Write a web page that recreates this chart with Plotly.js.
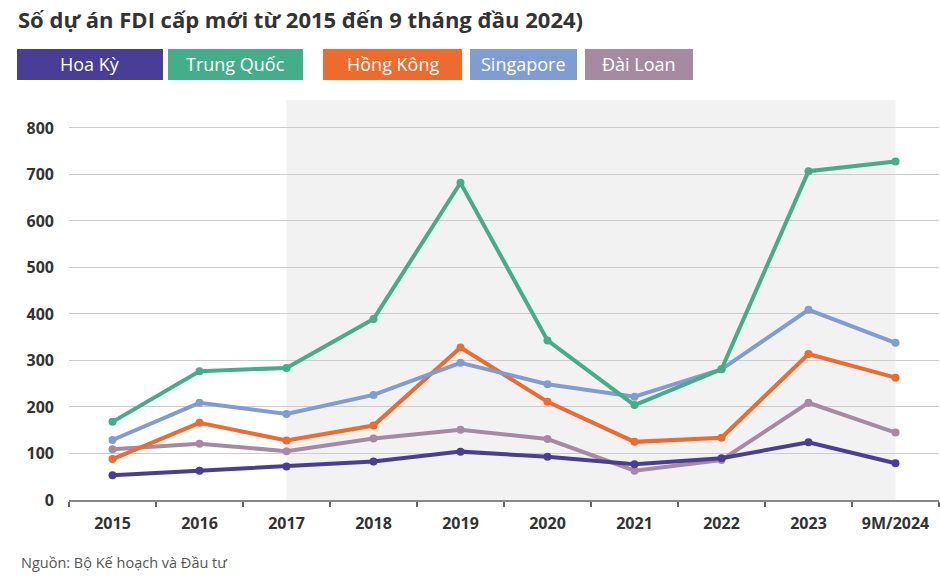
<!DOCTYPE html>
<html>
<head>
<meta charset="utf-8">
<script src="https://cdn.plot.ly/plotly-3.0.1.min.js"></script>
<style>html,body{margin:0;padding:0;background:#fff;}#chart{width:940px;height:578px;}</style>
</head>
<body>
<div id="chart"></div>
<script>
const categories = ["2015","2016","2017","2018","2019","2020","2021","2022","2023","9M/2024"];
const seriesNames = ["Hoa Kỳ","Trung Quốc","Hồng Kông","Singapore","Đài Loan"];
const hoaKy     = [53, 63, 72, 83, 104, 93, 77, 90, 124, 79];
const trungQuoc = [168, 277, 284, 389, 682, 343, 204, 281, 707, 728];
const hongKong  = [88, 166, 128, 160, 328, 211, 125, 134, 314, 263];
const singapore = [129, 209, 185, 226, 295, 249, 222, 281, 409, 338];
const daiLoan   = [109, 121, 105, 132, 151, 131, 63, 86, 209, 145];
const yTicks = [0, 100, 200, 300, 400, 500, 600, 700, 800];

const colors = ["#4a3d96", "#44ae8b", "#ef6a2d", "#7f9dd2", "#a68aa2"];
const seriesData = [hoaKy, trungQuoc, hongKong, singapore, daiLoan];

// draw order: back to front
const order = [4, 0, 2, 3, 1];
const traces = order.map(i => ({
  type: "scatter",
  mode: "lines+markers",
  name: seriesNames[i],
  x: categories,
  y: seriesData[i],
  line: {color: colors[i], width: 4},
  marker: {color: colors[i], size: 8},
  cliponaxis: false,
  showlegend: false
}));

const legendBoxes = [
  {x0: 17, x1: 163}, {x0: 168, x1: 303}, {x0: 323, x1: 462}, {x0: 470, x1: 577}, {x0: 585, x1: 693}
];
const W = 940, H = 578;
const shapes = [{
  type: "rect", xref: "x", yref: "paper", x0: 2, x1: 9, y0: 0, y1: 1,
  fillcolor: "#f2f2f2", line: {width: 0}, layer: "below"
}];
const annotations = [];
legendBoxes.forEach((b, i) => {
  shapes.push({
    type: "rect", xref: "paper", yref: "paper",
    x0: (b.x0 - 69) / 870, x1: (b.x1 - 69) / 870,
    y0: (500 - 80) / 400, y1: (500 - 49) / 400,
    fillcolor: colors[i], line: {width: 0}
  });
  annotations.push({
    xref: "paper", yref: "paper",
    x: ((b.x0 + b.x1) / 2 - 69) / 870, y: (500 - 64.5) / 400,
    xanchor: "center", yanchor: "middle",
    text: seriesNames[i], showarrow: false,
    font: {family: "Open Sans", size: 18, color: "#ffffff"}
  });
});
annotations.push({
  xref: "paper", yref: "paper", x: (19 - 69) / 870, y: (500 - 562) / 400,
  xanchor: "left", yanchor: "middle", showarrow: false,
  text: "Nguồn: Bộ Kế hoạch và Đầu tư",
  font: {family: "Open Sans", size: 14.5, color: "#555555"}
});

const layout = {
  width: W, height: H,
  margin: {l: 69, r: 1, t: 100, b: 78, pad: 0},
  paper_bgcolor: "#ffffff", plot_bgcolor: "rgba(0,0,0,0)",
  title: {
    text: "<b>Số dự án FDI cấp mới từ 2015 đến 9 tháng đầu 2024)</b>",
    font: {family: "Open Sans", size: 22, color: "#333333"},
    x: 18 / W, xanchor: "left", xref: "container", y: 1 - 20 / H, yanchor: "middle", yref: "container"
  },
  xaxis: {
    type: "category", range: [-0.5, 9.5],
    showgrid: false, showline: true, linecolor: "#888888", linewidth: 1.5,
    ticks: "outside", tickson: "boundaries", ticklen: 5, tickcolor: "#666666", tickwidth: 1.5,
    ticklabelstandoff: 8,
    tickfont: {family: "Open Sans", size: 16, color: "#333333", weight: "bold"},
    zeroline: false, fixedrange: true
  },
  yaxis: {
    range: [0, 860], tickvals: yTicks, ticktext: yTicks.map(String),
    showgrid: true, gridcolor: "#cccccc", gridwidth: 1,
    zeroline: false, showline: false, ticks: "",
    ticklabelstandoff: 14,
    tickfont: {family: "Open Sans", size: 16, color: "#333333", weight: "bold"},
    fixedrange: true
  },
  shapes: shapes,
  annotations: annotations,
  showlegend: false
};

Plotly.newPlot("chart", traces, layout, {displayModeBar: false, staticPlot: true});
</script>
</body>
</html>
